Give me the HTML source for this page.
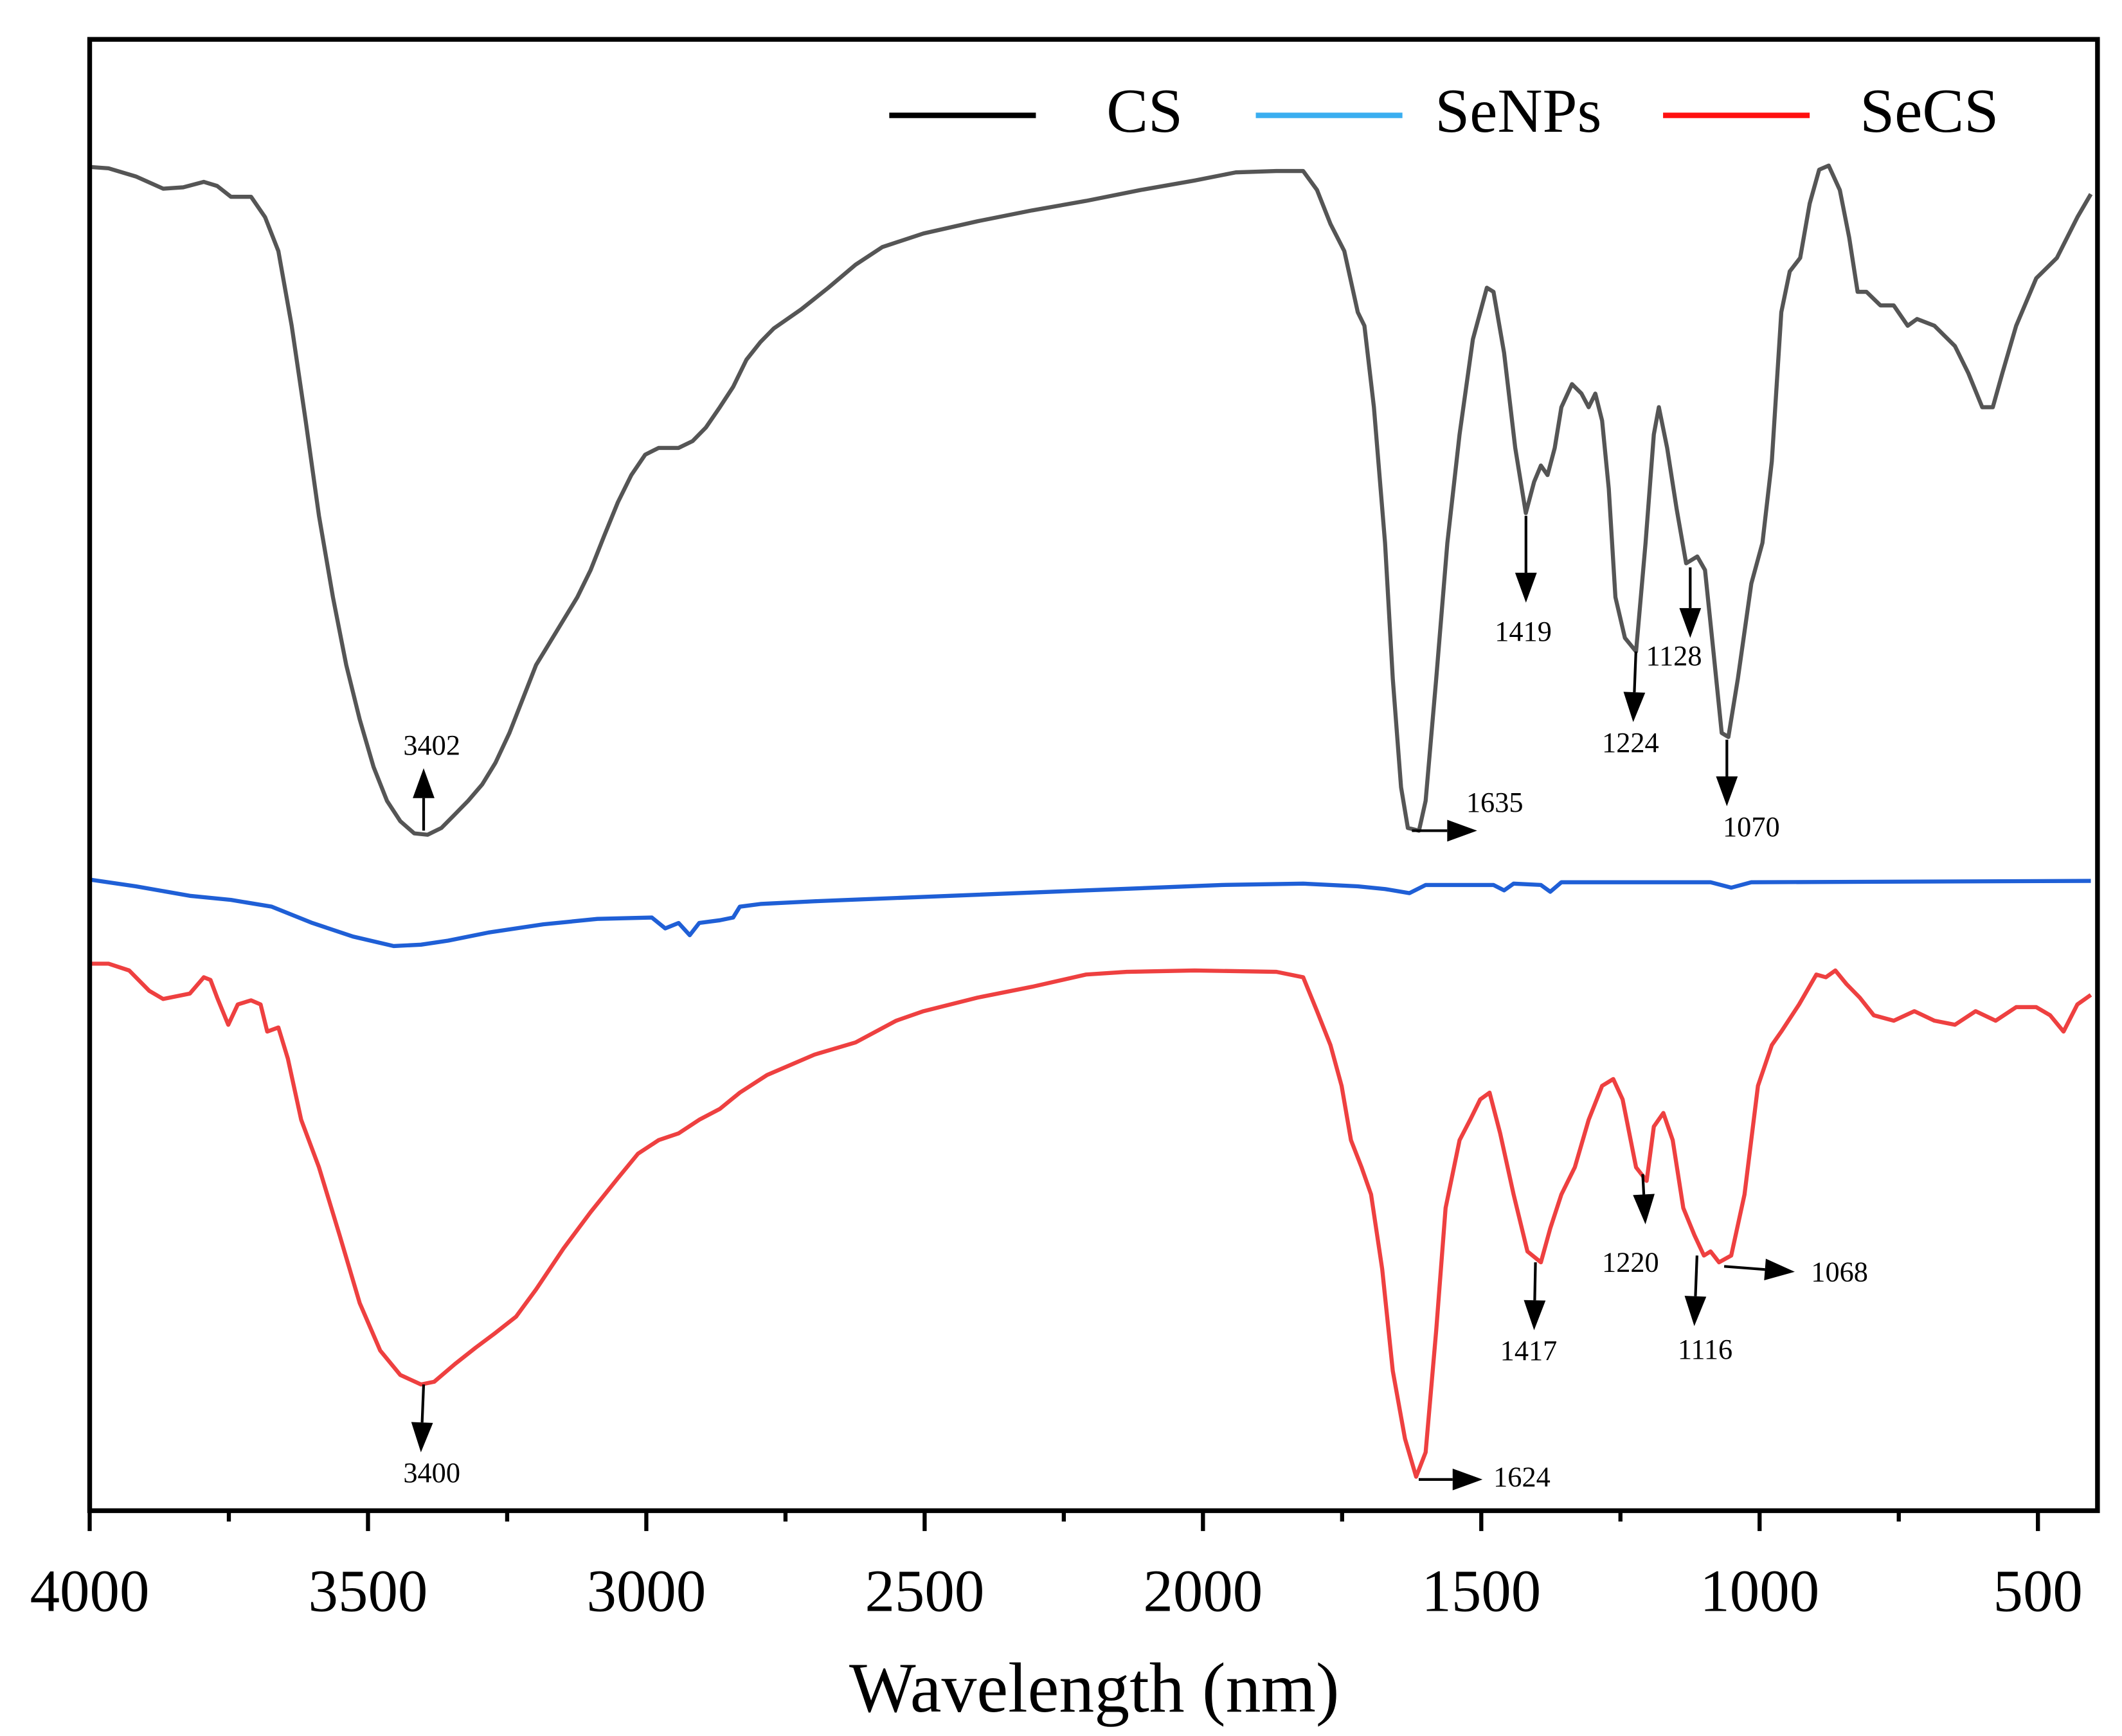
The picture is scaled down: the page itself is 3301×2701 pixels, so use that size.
<!DOCTYPE html>
<html><head><meta charset="utf-8"><style>
html,body{margin:0;padding:0;background:#fff;}
svg{display:block;}
text{font-family:"Liberation Serif","Times New Roman",serif;fill:#000;}
</style></head>
<body>
<svg id="chart" width="3301" height="2701" viewBox="0 0 1563 1279" xmlns="http://www.w3.org/2000/svg">
<g id="plot"></g>
</svg>
<script>
const xTicks = [4000, 3500, 3000, 2500, 2000, 1500, 1000, 500];
const xTickLabels = ["4000", "3500", "3000", "2500", "2000", "1500", "1000", "500"];
const csWn = [4000,3966,3917,3868,3832,3795,3771,3746,3710,3685,3661,3637,3612,3588,3563,3539,3515,3490,3466,3442,3417,3393,3368,3344,3320,3295,3271,3246,3222,3198,3161,3124,3100,3076,3051,3027,3002,2978,2942,2917,2893,2868,2844,2820,2795,2771,2722,2673,2624,2576,2502,2405,2307,2210,2112,2015,1941,1868,1820,1795,1771,1746,1722,1710,1693,1673,1659,1644,1632,1612,1600,1581,1561,1539,1515,1490,1478,1459,1439,1420,1405,1393,1381,1368,1356,1337,1320,1307,1295,1283,1271,1259,1242,1222,1205,1190,1181,1166,1149,1132,1112,1098,1083,1068,1056,1039,1015,995,978,961,946,927,910,893,876,856,839,824,808,783,759,734,717,686,649,625,600,581,564,539,503,466,429,405];
const csVal = [990,989,983,974,975,979,976,968,968,953,928,873,803,733,673,623,583,548,523,508,499,498,503,513,523,535,551,573,598,623,648,673,693,718,743,763,778,783,783,788,798,813,828,848,861,871,885,901,918,931,941,950,958,965,973,980,986,987,987,973,948,928,883,873,813,713,613,533,503,501,523,613,713,793,863,901,898,853,783,735,758,770,763,783,813,830,823,813,823,803,753,673,643,633,713,793,813,783,738,698,703,693,633,573,570,613,683,713,773,883,913,923,963,988,991,973,938,898,898,888,888,873,878,873,858,838,813,813,838,873,908,923,953,970];
const seWn = [4000,3917,3820,3746,3673,3600,3527,3454,3405,3356,3283,3185,3088,2990,2966,2942,2922,2905,2868,2844,2832,2795,2698,2454,2210,1966,1820,1722,1673,1629,1600,1478,1459,1442,1393,1376,1356,1234,1088,1051,1015,405];
const seVal = [465,460,453,450,445,433,423,416,417,420,426,432,436,437,429,433,424,433,435,437,445,447,449,453,457,461,462,460,458,455,461,461,457,462,461,456,463,463,463,459,463,464];
const secsWn = [4000,3966,3929,3893,3868,3820,3795,3783,3771,3751,3734,3710,3693,3681,3661,3644,3620,3588,3551,3515,3478,3442,3405,3381,3344,3307,3271,3234,3198,3149,3100,3051,3015,2978,2942,2905,2868,2832,2783,2698,2624,2551,2502,2405,2307,2210,2137,2015,1868,1820,1795,1771,1751,1734,1715,1698,1678,1659,1637,1617,1600,1581,1564,1539,1520,1502,1485,1466,1442,1417,1393,1376,1356,1332,1307,1283,1263,1246,1222,1203,1190,1173,1156,1137,1117,1100,1088,1073,1051,1027,1003,978,961,929,898,881,864,844,820,795,759,722,686,649,612,576,539,503,478,454,429,405];
const secsVal = [403,403,398,383,377,381,393,391,378,358,373,376,373,353,356,333,288,253,203,153,118,100,93,95,108,120,131,143,163,193,220,245,263,273,278,288,296,308,321,336,345,361,368,378,386,395,397,398,397,393,368,343,313,273,253,233,178,103,53,25,43,133,223,273,288,303,308,278,233,191,183,208,233,253,288,313,318,303,253,243,283,293,273,223,203,188,191,183,188,233,313,343,353,373,395,393,398,388,378,365,361,368,361,358,368,361,371,371,365,353,373,380];
const peakLabels = ["3402","1635","1419","1224","1128","1070","3400","1624","1417","1220","1116","1068"];

const NS = "http://www.w3.org/2000/svg";
const plot = document.getElementById('plot');
const L = 66, R = 1545, T = 29, B = 1113;
function xS(w){ return L + (4000 - w) * (R - L) / (4000 - 393); }
function yS(v){ return B - v; }
function mk(tag, attrs, parent){ const e = document.createElementNS(NS, tag); for (const k in attrs) e.setAttribute(k, attrs[k]); (parent||plot).appendChild(e); return e; }

function series(wn, val, color, name){
  let d = '';
  for (let i = 0; i < wn.length; i++) d += (i ? 'L' : 'M') + xS(wn[i]).toFixed(1) + ',' + yS(val[i]).toFixed(1);
  const p = mk('path', {d: d, fill: 'none', stroke: color, 'stroke-width': 3, 'stroke-linejoin': 'round'});
  
  
}
series(csWn, csVal, '#555555', 'cs-series-line');
series(seWn, seVal, '#1f5fd6', 'senps-series-line');
series(secsWn, secsVal, '#ee4040', 'secs-series-line');

// frame
const fr = mk('rect', {x: L, y: T, width: R - L, height: B - T, fill: 'none', stroke: '#000', 'stroke-width': 3.5});



// ticks
for (let i = 0; i < xTicks.length; i++) {
  const x = xS(xTicks[i]);
  const t = mk('line', {x1: x, x2: x, y1: B, y2: B + 15, stroke: '#000', 'stroke-width': 3});
  
  
  const mx = xS(xTicks[i] - 250);
  if (mx <= R) {
    const m = mk('line', {x1: mx, x2: mx, y1: B, y2: B + 8, stroke: '#000', 'stroke-width': 3});
    
    
  }
  const lb = mk('text', {x: x, y: 1187, 'font-size': 44, 'text-anchor': 'middle'});
  lb.textContent = xTickLabels[i];
  
  
}
const xt = mk('text', {x: 806, y: 1261, 'font-size': 52, 'text-anchor': 'middle'});
xt.textContent = 'Wavelength (nm)';



// legend
const legend = [['CS', '#000000', 655, 815], ['SeNPs', '#3aaef0', 925, 1057], ['SeCS', '#ff1010', 1225, 1370]];
for (const [name, col, lx, tx] of legend) {
  const g = mk('g', {});
  
  
  mk('line', {x1: lx, x2: lx + 108, y1: 85, y2: 85, stroke: col, 'stroke-width': 4}, g);
  const t = mk('text', {x: tx, y: 97, 'font-size': 46}, g);
  t.textContent = name;
}

// annotations: [x1,y1,x2,y2,tx,ty]
const arrows = [
  [312,612,312,566,318,556],
  [1040,612,1088,612,1101,598],
  [1124,380,1124,444,1122,472],
  [1205,480,1203,532,1201,554],
  [1245,418,1245,470,1233,490],
  [1272,545,1272,594,1290,616],
  [312,1020,310,1070,318,1092],
  [1045,1090,1092,1090,1121,1095],
  [1131,930,1130,980,1126,1002],
  [1210,865,1212,902,1201,937],
  [1250,925,1248,977,1256,1001],
  [1270,933,1322,937,1355,944]
];
for (let i = 0; i < arrows.length; i++) {
  const [x1,y1,x2,y2,tx,ty] = arrows[i];
  const g = mk('g', {});
  
  
  const dx = x2 - x1, dy = y2 - y1, len = Math.hypot(dx, dy), ux = dx/len, uy = dy/len;
  const hl = 22, hw = 8;
  const bx = x2 - ux*hl, by = y2 - uy*hl;
  mk('line', {x1: x1, y1: y1, x2: bx, y2: by, stroke: '#000', 'stroke-width': 2}, g);
  mk('polygon', {points: `${x2},${y2} ${bx - uy*hw},${by + ux*hw} ${bx + uy*hw},${by - ux*hw}`, fill: '#000'}, g);
  const t = mk('text', {x: tx, y: ty, 'font-size': 21, 'text-anchor': 'middle'}, g);
  t.textContent = peakLabels[i];
}
</script>
</body></html>
